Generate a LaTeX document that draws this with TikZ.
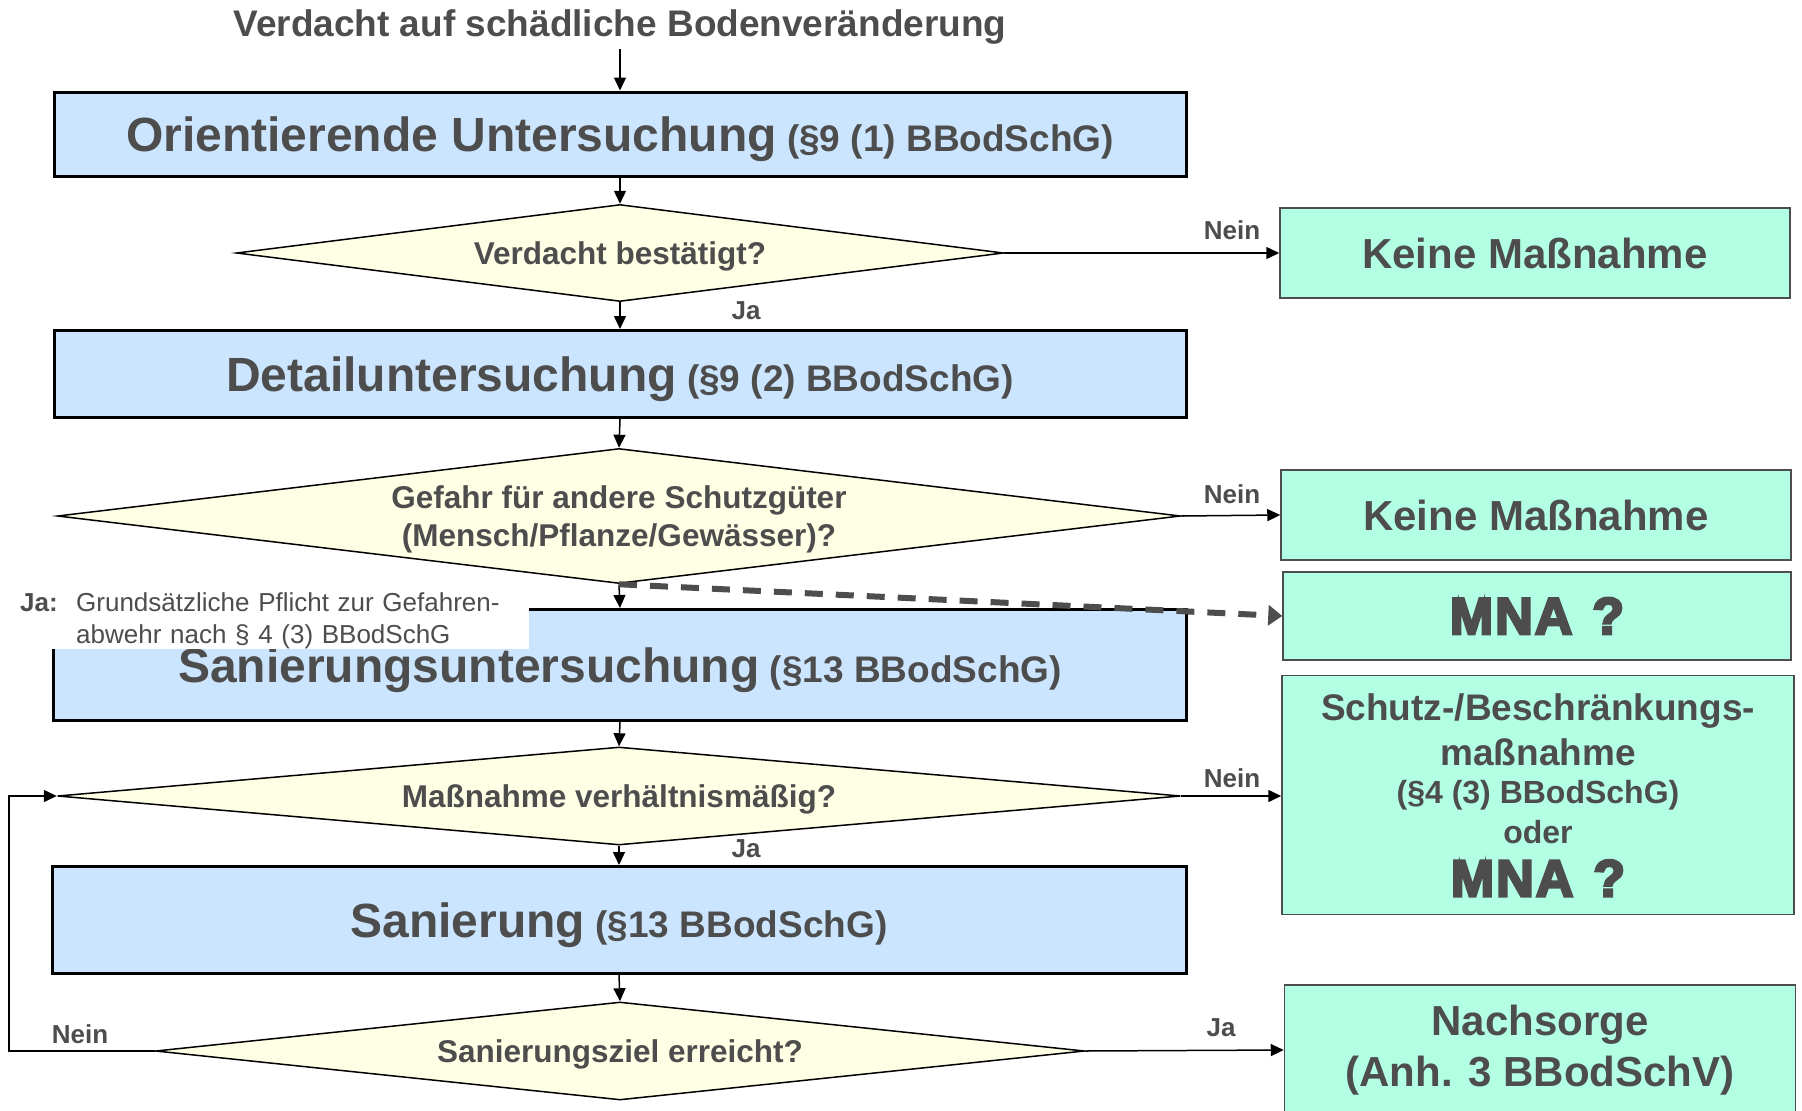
\documentclass[tikz,border=0pt]{standalone}
\usepackage{fontspec}
\setmainfont{Liberation Sans}
\newfontfamily\heavyfont[FakeBold=5, LetterSpace=4]{Liberation Sans Bold}
\usetikzlibrary{shapes.geometric,arrows.meta}
\definecolor{blue1}{RGB}{204,229,255}
\definecolor{yellow1}{RGB}{255,255,230}
\definecolor{green1}{RGB}{179,255,228}
\definecolor{gray1}{RGB}{77,77,77}
\newcommand{\fsz}[2]{\fontsize{#1}{#2}\selectfont}
\newcommand{\mna}{MNA\hspace{20pt}?}
\tikzstyle{stage} = [rectangle, draw=black, line width=3pt, fill=blue1, text=gray1, font=\bfseries\fsz{48}{56}, text depth=0pt, minimum width=1132pt, inner sep=0pt]
\tikzstyle{query} = [diamond, draw=black, line width=1.5pt, fill=yellow1, text=gray1, font=\bfseries\fsz{31.5}{38}, text depth=0pt, aspect=10, inner sep=0pt, align=center]
\tikzstyle{result} = [rectangle, draw=gray1, line width=1.5pt, fill=green1, text=gray1, font=\bfseries, minimum width=510pt, inner sep=0pt, align=center]
\tikzstyle{tag} = [text=gray1, font=\bfseries\fsz{26}{30}, inner sep=0pt]
\tikzstyle{flow} = [draw=black, line width=1.5pt, -{Triangle[length=13pt, width=12pt]}]
\tikzstyle{dashflow} = [draw=gray1, line width=6pt, dash pattern=on 18pt off 13pt, -{Triangle[length=14pt, width=20pt]}]

\begin{document}
\begin{tikzpicture}[x=1pt, y=-1pt]
	\useasboundingbox (0,0) rectangle (1802,1111);
	% Ablauf
	\node [text=gray1, font=\bfseries\fsz{37}{44}, inner sep=4pt] (T01) at (620,27) {Verdacht auf schädliche Bodenveränderung};
	\node [stage, minimum height=84pt] (U01) at (620,134) {Orientierende Untersuchung{\fsz{37}{44} (§9 (1) BBodSchG)}};
	\node [query, minimum width=767pt, minimum height=97pt] (F01) at (620,253) {Verdacht bestätigt?};
	\node [stage, minimum height=87pt] (U02) at (620,374) {Detailuntersuchung{\fsz{37}{44} (§9 (2) BBodSchG)}};
	\node [query, minimum width=1123pt, minimum height=135pt] (F02) at (619,516) {Gefahr für andere Schutzgüter\\(Mensch/Pflanze/Gewässer)?};
	\node [stage, minimum height=111pt, minimum width=1133pt] (U03) at (620,665) {Sanierungsuntersuchung{\fsz{37}{44} (§13 BBodSchG)}};
	\node [query, minimum width=1123pt, minimum height=98pt] (F03) at (619,796) {Maßnahme verhältnismäßig?};
	\node [stage, minimum height=107pt, minimum width=1134pt] (U04) at (619,920) {Sanierung{\fsz{37}{44} (§13 BBodSchG)}};
	\node [query, minimum width=929pt, minimum height=98pt] (F04) at (620,1051) {Sanierungsziel erreicht?};

	% Ergebnisse
	\node [result, minimum height=90pt, font=\bfseries\fsz{42}{50}] (M01) at (1535,253) {Keine Maßnahme};
	\node [result, minimum height=90pt, font=\bfseries\fsz{42}{50}] (M02) at (1536,515) {Keine Maßnahme};
	\node [result, minimum height=88pt, minimum width=508pt, font=\heavyfont\fsz{52}{60}] (M03) at (1537,616) {\mna};
	\node [result, minimum height=239pt, minimum width=512pt, font=\bfseries\fsz{37}{38}] (M04) at (1538,795) {Schutz-/Beschränkungs-\\[7pt]
		maßnahme\\
		\fsz{32}{38}(§4 (3) BBodSchG)\\[2pt]
		\fsz{32}{38}oder\\[15pt]
		\heavyfont\fsz{52}{38}\mna};
	\node [result, minimum height=130pt, minimum width=511pt, font=\bfseries\fsz{42}{51}] (M05) at (1540,1050) {Nachsorge\\(Anh. 3 BBodSchV)};

	% Hinweis
	\node [fill=white, anchor=north west, text width=489pt, inner xsep=20pt, inner ysep=0pt, minimum height=62pt, align=left, text=gray1, font=\fsz{26}{32}] (H01) at (0,584) {\rule{0pt}{27pt}\makebox[56pt][l]{\textbf{Ja:}}Grundsätzliche Pflicht zur Gefahren-\\\hspace*{56pt}abwehr nach § 4 (3) BBodSchG};

	% Beschriftungen
	\node [tag] (L01) at (1232,230) {Nein};
	\node [tag] (L02) at (746,311) {Ja};
	\node [tag] (L03) at (1232,494) {Nein};
	\node [tag] (L04) at (1232,778) {Nein};
	\node [tag] (L05) at (746,849) {Ja};
	\node [tag] (L06) at (1221,1028) {Ja};
	\node [tag] (L07) at (80,1034) {Nein};
	\coordinate (C01) at (9,1051);

	% Verbindungen
	\draw [flow] (T01.south) to (U01.north);
	\draw [flow] (U01.south) to (F01.north);
	\draw [flow] (F01.south) to (U02.north);
	\draw [flow] (F01.east) to (M01.west);
	\draw [flow] (U02.south) to (F02.north);
	\draw [flow] (F02.east) to (M02.west);
	\draw [flow] (F02.south) to (U03.north);
	\draw [dashflow] (F02.south) to (M03.west);
	\draw [flow] (U03.south) to (F03.north);
	\draw [flow] (F03.east) to (F03.east -| M04.west);
	\draw [flow] (F03.south) to (U04.north);
	\draw [flow] (U04.south) to (F04.north);
	\draw [flow] (F04.east) to (M05.west);
	\draw [flow] (F04.west) -- (C01) |- (F03.west);
\end{tikzpicture}
\end{document}
